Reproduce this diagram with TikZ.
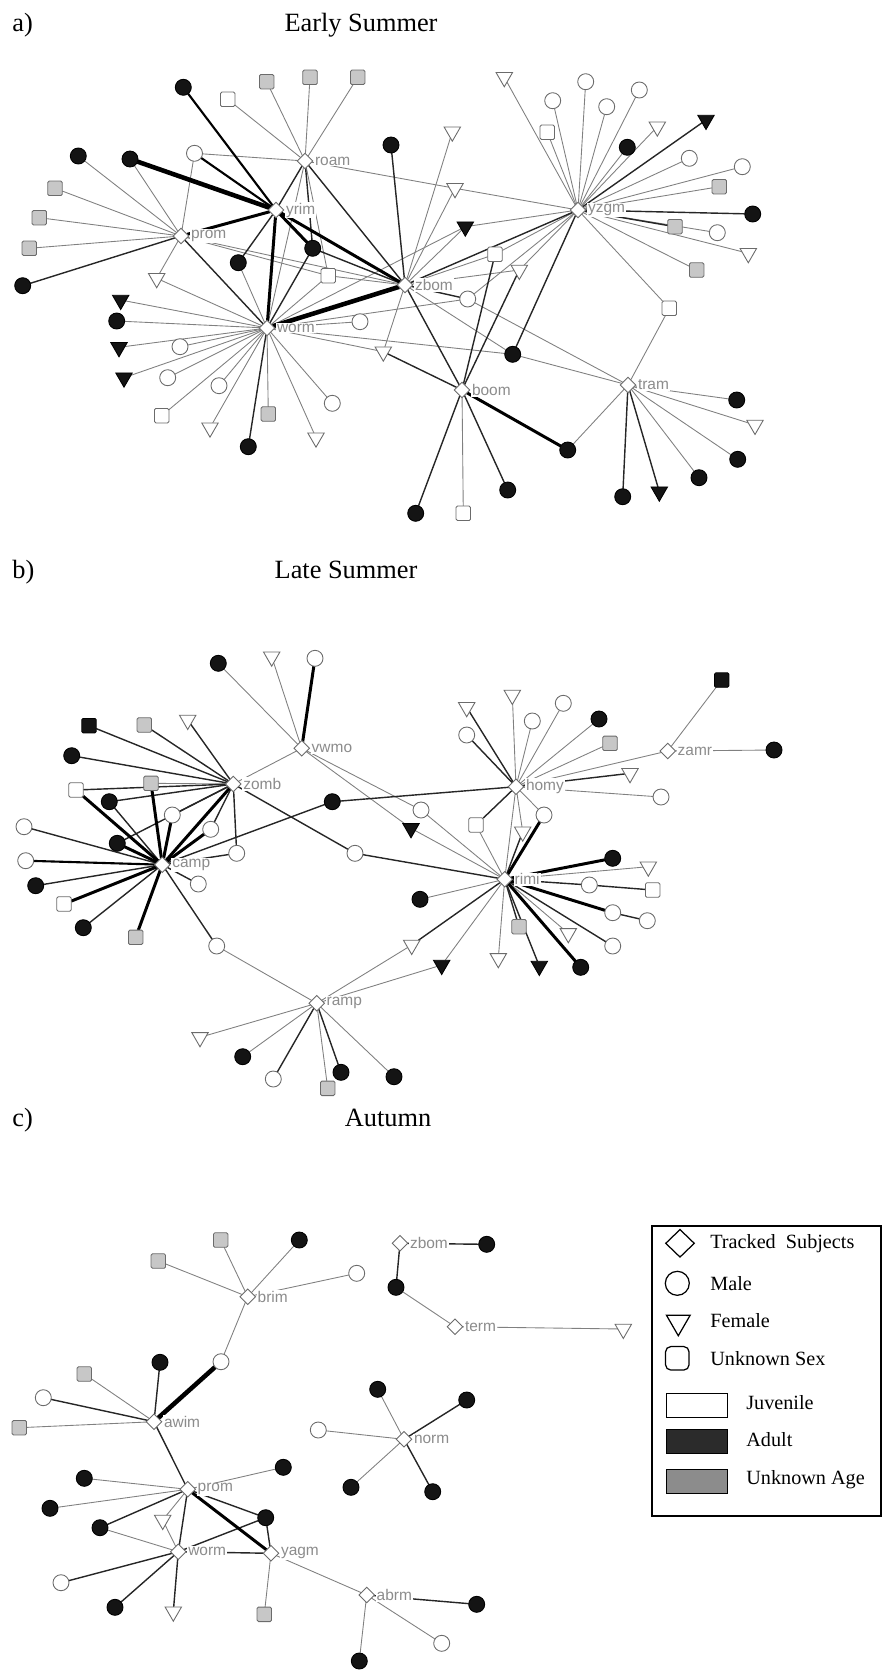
\documentclass[tikz,border=0pt]{standalone}
\usepackage{fontspec}
\setmainfont{Liberation Serif}
\newfontfamily\lblfont{Liberation Sans}
\usetikzlibrary{shapes.geometric}
\pgfdeclarelayer{bg}
\pgfsetlayers{bg,main}
\definecolor{cedge}{gray}{0.5}
\definecolor{cnode}{gray}{0.42}
\definecolor{csq}{gray}{0.78}
\definecolor{clbl}{gray}{0.55}
\definecolor{cadult}{gray}{0.17}
\definecolor{cunk}{gray}{0.55}
\tikzset{
 nb/.style={inner sep=0pt, outer sep=0pt, line width=0.5pt},
 hub/.style={nb, diamond, draw=cnode, fill=white, minimum width=0.31cm, minimum height=0.31cm},
 mw/.style={nb, circle, draw=cnode, fill=white, minimum size=0.32cm},
 mb/.style={nb, circle, draw=black, fill=black!92, minimum size=0.32cm},
 fw/.style={nb, regular polygon, regular polygon sides=3, shape border rotate=180, draw=cnode, fill=white, minimum size=0.38cm},
 fb/.style={fw, draw=black, fill=black!92},
 uw/.style={nb, rectangle, rounded corners=0.8pt, draw=cnode, fill=white, minimum size=0.29cm},
 ug/.style={uw, fill=csq},
 ub/.style={uw, draw=black, fill=black!92},
 lab/.style={font=\lblfont\fontsize{8.8}{9}\selectfont, text=clbl, fill=white, inner sep=0.6pt, anchor=west},
 ttl/.style={font=\fontsize{15}{17}\selectfont, inner sep=0pt, anchor=base},
 legt/.style={font=\fontsize{11.5}{13}\selectfont, anchor=west, inner sep=0pt},
 lg/.style={draw=cedge, line width=0.5pt},
 ld/.style={draw=black!85, line width=0.8pt},
 lm/.style={draw=black, line width=1.2pt},
 lt/.style={draw=black, line width=1.7pt},
 lx/.style={draw=black, line width=2.6pt},
}
\begin{document}
\begin{tikzpicture}[x=0.02cm, y=-0.02cm]
\useasboundingbox (0,0) rectangle (883,1670);
% titles
\node[ttl, anchor=base west] (pa) at (12,31.5) {a)};
\node[ttl] (ta) at (361,31.5) {Early Summer};
\node[ttl, anchor=base west] (pb) at (12,578) {b)};
\node[ttl] (tb) at (346,578) {Late Summer};
\node[ttl, anchor=base west] (pc) at (12,1126) {c)};
\node[ttl] (tc) at (388,1126) {Autumn};

% ---------- panel a ----------
\node[hub] (roam) at (305,161) {};
\node[hub] (yrim) at (276,210) {};
\node[hub] (prom) at (181,236) {};
\node[hub] (worm) at (267,328) {};
\node[hub] (zbom) at (405,285) {};
\node[hub] (yzgm) at (578,210) {};
\node[hub] (boom) at (462,390) {};
\node[hub] (tram) at (628,385) {};

\node[ug] (a1) at (266.7,81.7) {};
\node[ug] (a2) at (310,77.3) {};
\node[ug] (a3) at (357.7,77.3) {};
\node[uw] (a4) at (227.7,99.3) {};
\node[mb] (a5) at (183.3,87.3) {};
\node[mw] (a6) at (194.5,153.3) {};
\node[mb] (a7) at (78.3,156) {};
\node[mb] (a8) at (130,159) {};
\node[ug] (a9) at (55,188.3) {};
\node[ug] (a10) at (39.3,217.7) {};
\node[ug] (a11) at (29.3,248.3) {};
\node[mb] (a12) at (22.7,285.7) {};
\node[fw] (a13) at (156.7,278.3) {};
\node[fb] (a14) at (120.7,300) {};
\node[mb] (a15) at (116.7,321) {};
\node[fb] (a16) at (119,347.3) {};
\node[fb] (a17) at (124,377.7) {};
\node[mw] (a18) at (180,346.7) {};
\node[mw] (a19) at (167.7,377.7) {};
\node[mw] (a20) at (219,385.7) {};
\node[uw] (a21) at (161.7,415.7) {};
\node[fw] (a22) at (210,427.7) {};
\node[ug] (a23) at (268.3,414) {};
\node[mb] (a24) at (248.3,446.7) {};
\node[fw] (a25) at (316,437.7) {};
\node[mw] (a26) at (332.3,403.3) {};
\node[mb] (a27) at (238.3,262.7) {};
\node[mb] (a28) at (312.7,248.3) {};
\node[uw] (a29) at (328.3,275.7) {};
\node[mb] (a30) at (391,145) {};
\node[fw] (a31) at (452.3,131.7) {};
\node[fw] (a32) at (455,188.3) {};
\node[fb] (a33) at (465.3,226.7) {};
\node[uw] (a34) at (495,254.3) {};
\node[fw] (a35) at (519.3,270) {};
\node[mw] (a36) at (467.7,299) {};
\node[mb] (a37) at (512.7,354.3) {};
\node[mw] (a38) at (360,321.7) {};
\node[fw] (a39) at (383.3,351.7) {};
\node[mb] (a40) at (567.7,450) {};
\node[uw] (a41) at (669.3,308.3) {};
\node[mb] (a42) at (415.7,513.3) {};
\node[uw] (a43) at (463.3,513.3) {};
\node[mb] (a44) at (507.7,490) {};
\node[mb] (a45) at (736.7,400) {};
\node[fw] (a46) at (755,425) {};
\node[mb] (a47) at (737.7,459.3) {};
\node[mb] (a48) at (699,477.7) {};
\node[fb] (a49) at (659.3,491.7) {};
\node[mb] (a50) at (622.7,496.7) {};
\node[fw] (a51) at (504.3,77.3) {};
\node[mw] (a52) at (552.7,100.7) {};
\node[mw] (a53) at (585.7,81.7) {};
\node[mw] (a54) at (606.7,106.7) {};
\node[mw] (a55) at (639.3,90) {};
\node[uw] (a56) at (547.3,132.3) {};
\node[mb] (a57) at (627.3,147.3) {};
\node[fw] (a58) at (657.3,126.7) {};
\node[fb] (a59) at (706,120) {};
\node[mw] (a60) at (689.3,158.3) {};
\node[mw] (a61) at (742.3,166.7) {};
\node[ug] (a62) at (719.3,186.7) {};
\node[mb] (a63) at (752.7,214) {};
\node[ug] (a64) at (675,226.7) {};
\node[mw] (a65) at (717.3,232.7) {};
\node[fw] (a66) at (748.3,253.3) {};
\node[ug] (a67) at (696.7,270) {};

\node[lab] (roamL) at ([xshift=0.5pt]roam.east) {roam};
\node[lab] (yrimL) at ([xshift=0.5pt]yrim.east) {yrim};
\node[lab] (promL) at ([xshift=0.5pt]prom.east) {prom};
\node[lab] (wormL) at ([xshift=0.5pt]worm.east) {worm};
\node[lab] (zbomL) at ([xshift=0.5pt]zbom.east) {zbom};
\node[lab] (yzgmL) at ([xshift=0.5pt]yzgm.east) {yzgm};
\node[lab] (boomL) at ([xshift=0.5pt]boom.east) {boom};
\node[lab] (tramL) at ([xshift=0.5pt]tram.east) {tram};

% ---------- panel b ----------
\node[hub] (vwmo) at (301.7,748.3) {};
\node[hub] (zomb) at (233.3,784) {};
\node[hub] (camp) at (162.3,864.7) {};
\node[hub] (ramp) at (316.7,1003.3) {};
\node[hub] (homy) at (516,786.7) {};
\node[hub] (rimi) at (504.7,879.3) {};
\node[hub] (zamr) at (667.7,751) {};

\node[mb] (b1) at (218.3,663.3) {};
\node[fw] (b2) at (271.7,656.7) {};
\node[mw] (b3) at (315,658.3) {};
\node[ub] (b4) at (89,725.7) {};
\node[ug] (b5) at (144.3,725) {};
\node[fw] (b6) at (187.7,720) {};
\node[mb] (b7) at (71.7,755.7) {};
\node[uw] (b8) at (76,790) {};
\node[ug] (b9) at (151,783.3) {};
\node[mb] (b10) at (109.3,801.7) {};
\node[mw] (b11) at (172.3,815) {};
\node[mb] (b12) at (117.3,843.3) {};
\node[mw] (b13) at (210.7,829.3) {};
\node[mw] (b14) at (236.7,853.3) {};
\node[mw] (b15) at (24,826.7) {};
\node[mw] (b16) at (25.7,860.7) {};
\node[mb] (b17) at (35.7,885.7) {};
\node[uw] (b18) at (64,904) {};
\node[mb] (b19) at (83.3,927.7) {};
\node[ug] (b20) at (135.7,937.3) {};
\node[mw] (b21) at (198.3,884) {};
\node[mw] (b22) at (216.7,946) {};
\node[mb] (b23) at (332.3,801.7) {};
\node[mw] (b24) at (355,853.3) {};
\node[mw] (b25) at (421,810) {};
\node[fb] (b26) at (411,828.3) {};
\node[fw] (b27) at (200,1037.3) {};
\node[mb] (b28) at (242.7,1056.7) {};
\node[mw] (b29) at (273.3,1079) {};
\node[mb] (b30) at (341,1072.3) {};
\node[ug] (b31) at (327.7,1088.3) {};
\node[mb] (b32) at (394,1076.7) {};
\node[fw] (b33) at (411.7,945) {};
\node[fb] (b34) at (441.7,965) {};
\node[fw] (b35) at (466.7,707.3) {};
\node[fw] (b36) at (512.3,695) {};
\node[mw] (b37) at (563.3,703.3) {};
\node[mw] (b38) at (532.3,721) {};
\node[mw] (b39) at (466.7,735) {};
\node[mb] (b40) at (599,719) {};
\node[ug] (b41) at (610,743.3) {};
\node[fw] (b42) at (630,773.3) {};
\node[mw] (b43) at (661,797) {};
\node[uw] (b44) at (476,825) {};
\node[fw] (b45) at (522.7,831.7) {};
\node[mw] (b46) at (544,815) {};
\node[ub] (b47) at (721.7,680) {};
\node[mb] (b48) at (774,750) {};
\node[mb] (b49) at (420,899.3) {};
\node[fw] (b50) at (498.3,958.3) {};
\node[ug] (b51) at (519,926.7) {};
\node[fb] (b52) at (539.3,966) {};
\node[mb] (b53) at (580.7,967.3) {};
\node[mw] (b54) at (612.7,946) {};
\node[fw] (b55) at (568.3,933.3) {};
\node[mw] (b56) at (612.7,912.7) {};
\node[mw] (b57) at (647.3,920.7) {};
\node[mb] (b58) at (612.7,858.3) {};
\node[fw] (b59) at (648.3,866.7) {};
\node[mw] (b60) at (589.3,885) {};
\node[uw] (b61) at (652.7,890) {};

\node[lab] (vwmoL) at ([xshift=0.5pt]vwmo.east) {vwmo};
\node[lab] (zombL) at ([xshift=0.5pt]zomb.east) {zomb};
\node[lab] (campL) at ([xshift=0.5pt]camp.east) {camp};
\node[lab] (rampL) at ([xshift=0.5pt]ramp.east) {ramp};
\node[lab] (homyL) at ([xshift=0.5pt]homy.east) {homy};
\node[lab] (rimiL) at ([xshift=0.5pt]rimi.east) {rimi};
\node[lab] (zamrL) at ([xshift=0.5pt]zamr.east) {zamr};

% ---------- panel c ----------
\node[hub] (brim) at (247.7,1296.7) {};
\node[hub] (awim) at (154,1421.7) {};
\node[hub] (cprom) at (187.7,1489.3) {};
\node[hub] (cworm) at (178.3,1551.7) {};
\node[hub] (yagm) at (271,1553.3) {};
\node[hub] (abrm) at (366.7,1595) {};
\node[hub] (czbom) at (400,1243.3) {};
\node[hub] (term) at (455,1326.7) {};
\node[hub] (norm) at (404,1439.3) {};

\node[ug] (c1) at (220.7,1240) {};
\node[ug] (c2) at (158.3,1261) {};
\node[mb] (c3) at (299.3,1240) {};
\node[mw] (c4) at (356.7,1273.3) {};
\node[mw] (c5) at (221,1361.7) {};
\node[mb] (c6) at (160,1362.3) {};
\node[ug] (c7) at (84.3,1374) {};
\node[mw] (c8) at (43.3,1397.7) {};
\node[ug] (c9) at (19.3,1427.7) {};
\node[mb] (c10) at (84.3,1478.3) {};
\node[mb] (c11) at (283.3,1467.3) {};
\node[mb] (c12) at (50,1508.3) {};
\node[mb] (c13) at (100,1527.7) {};
\node[fw] (c14) at (162.7,1520) {};
\node[mb] (c15) at (265.7,1517.7) {};
\node[mw] (c16) at (61,1582.7) {};
\node[mb] (c17) at (115,1607.3) {};
\node[fw] (c18) at (173.3,1611.7) {};
\node[ug] (c19) at (264.3,1614.3) {};
\node[mb] (c20) at (476.7,1604.3) {};
\node[mw] (c21) at (441.7,1643.3) {};
\node[mb] (c22) at (359.3,1661) {};
\node[mb] (c23) at (486.7,1244.3) {};
\node[mb] (c24) at (396,1287.3) {};
\node[fw] (c25) at (623.3,1329) {};
\node[mb] (c26) at (377.7,1389.3) {};
\node[mb] (c27) at (466.7,1400) {};
\node[mw] (c28) at (318.3,1430) {};
\node[mb] (c29) at (351,1487.3) {};
\node[mb] (c30) at (432.7,1491.7) {};

\node[lab] (brimL) at ([xshift=0.5pt]brim.east) {brim};
\node[lab] (awimL) at ([xshift=0.5pt]awim.east) {awim};
\node[lab] (cpromL) at ([xshift=0.5pt]cprom.east) {prom};
\node[lab] (cwormL) at ([xshift=0.5pt]cworm.east) {worm};
\node[lab] (yagmL) at ([xshift=0.5pt]yagm.east) {yagm};
\node[lab] (abrmL) at ([xshift=0.5pt]abrm.east) {abrm};
\node[lab] (czbomL) at ([xshift=0.5pt]czbom.east) {zbom};
\node[lab] (termL) at ([xshift=0.5pt]term.east) {term};
\node[lab] (normL) at ([xshift=0.5pt]norm.east) {norm};

% ---------- legend ----------
\node[draw=black, line width=0.9pt, minimum width=4.58cm, minimum height=5.8cm, anchor=north west, inner sep=0pt] (legend) at (651,1225) {};
\node[diamond, draw=black, line width=0.7pt, minimum width=0.58cm, minimum height=0.56cm, inner sep=0pt] (L1) at (680,1243.3) {};
\node[legt] (L1t) at (710,1243.3) {Tracked~ Subjects};
\node[circle, draw=black, line width=0.7pt, minimum size=0.48cm, inner sep=0pt] (L2) at (677.3,1283.3) {};
\node[legt] (L2t) at (710,1283.3) {Male};
\node[regular polygon, regular polygon sides=3, shape border rotate=180, draw=black, line width=0.7pt, minimum size=0.55cm, inner sep=0pt] (L3) at (678.3,1322) {};
\node[legt] (L3t) at (710,1320.7) {Female};
\node[rectangle, rounded corners=3pt, draw=black, line width=0.7pt, minimum size=0.47cm, inner sep=0pt] (L4) at (677.3,1358.3) {};
\node[legt] (L4t) at (710,1358.3) {Unknown Sex};
\node[rectangle, draw=black, line width=0.6pt, fill=white, minimum width=1.22cm, minimum height=0.48cm, inner sep=0pt] (L5) at (697.3,1405.3) {};
\node[legt] (L5t) at (746,1403) {Juvenile};
\node[rectangle, draw=black, line width=0.6pt, fill=cadult, minimum width=1.22cm, minimum height=0.48cm, inner sep=0pt] (L6) at (697.3,1441.7) {};
\node[legt] (L6t) at (746,1440) {Adult};
\node[rectangle, draw=black, line width=0.6pt, fill=cunk, minimum width=1.22cm, minimum height=0.48cm, inner sep=0pt] (L7) at (697.3,1481.3) {};
\node[legt] (L7t) at (746,1480) {Unknown Age};

% ---------- edges ----------
\begin{pgfonlayer}{bg}
% panel a
\foreach \p/\q in {a1/roam,a2/roam,a3/roam,a4/roam,a6/roam,a6/prom,a7/prom,a8/prom,a9/prom,a10/prom,a11/prom,a13/prom,a13/worm,a14/worm,a15/worm,a16/worm,a17/worm,a18/worm,a19/worm,a20/worm,a21/worm,a22/worm,a23/worm,a25/worm,a26/worm,a27/worm,a29/roam,a29/prom,a29/zbom,a29/worm,a31/zbom,a32/roam,a32/yzgm,a32/zbom,a33/yzgm,a33/zbom,a33/worm,a34/yzgm,a34/zbom,a35/zbom,a35/yzgm,a36/yzgm,a36/tram,a36/worm,a37/tram,a37/worm,a37/zbom,a38/worm,a39/worm,a39/zbom,a40/tram,a41/yzgm,a41/tram,a43/boom,a45/tram,a46/tram,a47/tram,a48/tram,a51/yzgm,a52/yzgm,a53/yzgm,a54/yzgm,a55/yzgm,a56/yzgm,a57/yzgm,a58/yzgm,a60/yzgm,a61/yzgm,a62/yzgm,a65/yzgm,a66/yzgm,a67/yzgm,roam/worm,prom/zbom}
  \draw[lg] (\p) -- (\q);
\foreach \p/\q in {a12/prom,a24/worm,a27/yrim,a28/worm,a28/roam,a28/zbom,a30/zbom,a34/boom,a35/boom,a36/zbom,a37/yzgm,a39/boom,a42/boom,a44/boom,a49/tram,a50/tram,a59/yzgm,a63/yzgm,a64/yzgm,roam/yrim,roam/zbom,prom/worm,zbom/yzgm,zbom/boom}
  \draw[ld] (\p) -- (\q);
\foreach \p/\q in {a5/yrim,a6/yrim}
  \draw[lm] (\p) -- (\q);
\foreach \p/\q in {a28/yrim,yrim/prom,yrim/worm,yrim/zbom,a40/boom}
  \draw[lt] (\p) -- (\q);
\foreach \p/\q in {a8/yrim,worm/zbom}
  \draw[lx] (\p) -- (\q);
% panel b
\foreach \p/\q in {b1/vwmo,b2/vwmo,b9/zomb,b22/ramp,b25/vwmo,b25/rimi,b26/vwmo,b26/rimi,b27/ramp,b28/ramp,b31/ramp,b32/ramp,b33/ramp,b34/ramp,b34/rimi,b36/homy,b37/homy,b38/homy,b40/homy,b41/homy,b43/homy,b44/rimi,b45/homy,b46/homy,b47/zamr,b48/zamr,homy/zamr,homy/rimi,zomb/vwmo,b49/rimi,b50/rimi,b55/rimi,b59/rimi}
  \draw[lg] (\p) -- (\q);
\foreach \p/\q in {b4/zomb,b5/zomb,b6/zomb,b7/zomb,b8/zomb,b10/zomb,b10/camp,b11/zomb,b12/zomb,b13/zomb,b14/zomb,b14/camp,b15/camp,b17/camp,b19/camp,b21/camp,b22/camp,b23/camp,b23/homy,b24/zomb,b24/rimi,b29/ramp,b30/ramp,b33/rimi,b35/homy,b39/homy,b42/homy,b44/homy,b45/rimi,b51/rimi,b52/rimi,b54/rimi,b60/rimi,b60/b61,b56/b57}
  \draw[ld] (\p) -- (\q);
\foreach \p/\q in {b16/camp}
  \draw[lm] (\p) -- (\q);
\foreach \p/\q in {b3/vwmo,b8/camp,b9/camp,b11/camp,b12/camp,b13/camp,b18/camp,b20/camp,zomb/camp,b46/rimi,b53/rimi,b56/rimi,b58/rimi}
  \draw[lt] (\p) -- (\q);
% panel c
\foreach \p/\q in {c1/brim,c2/brim,c3/brim,c4/brim,c5/brim,c7/awim,c9/awim,c10/cprom,c11/cprom,c12/cprom,c13/cworm,c14/cprom,c14/cworm,c19/yagm,yagm/abrm,c21/abrm,c22/abrm,c24/term,c25/term,c26/norm,c28/norm,c29/norm}
  \draw[lg] (\p) -- (\q);
\foreach \p/\q in {c6/awim,c8/awim,awim/cprom,c13/cprom,c15/cprom,c15/cworm,c15/yagm,cprom/cworm,c16/cworm,c17/cworm,c18/cworm,cworm/yagm,c20/abrm,c23/czbom,c24/czbom,c27/norm,c30/norm}
  \draw[ld] (\p) -- (\q);
\draw[lt] (cprom) -- (yagm);
\draw[lx] (c5) -- (awim);
\end{pgfonlayer}
\end{tikzpicture}
\end{document}
